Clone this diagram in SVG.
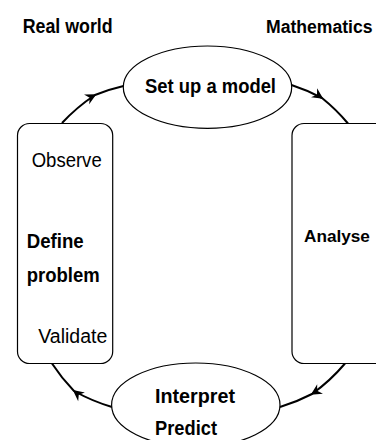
<svg xmlns="http://www.w3.org/2000/svg" width="376" height="440" viewBox="0 0 376 440">
<style>
text{font-family:"Liberation Sans",Arial,sans-serif;font-size:19.5px;fill:#000}
.b{font-weight:bold}
.shape{fill:#fff;stroke:#000;stroke-width:1.2}
.conn{fill:none;stroke:#000;stroke-width:2;marker-mid:url(#arr)}
</style>
<defs>
<marker id="arr" viewBox="-11 -6 13 12" markerWidth="13" markerHeight="12" refX="0" refY="0" orient="auto" markerUnits="userSpaceOnUse">
<path d="M1.5,0 L-9.5,-5.5 L-6,0 L-9.5,5.5 Z" fill="#000"/>
</marker>
</defs>
<rect width="376" height="440" fill="#fff"/>
<text class="b" x="22.7" y="33.3" textLength="90" lengthAdjust="spacingAndGlyphs">Real world</text>
<text class="b" x="266" y="33.3" style="font-size:17.6px">Mathematics</text>
<g id="connectors">
<path class="conn" d="M62,123 A185,185 0 0 1 95,95 A185,185 0 0 1 123.5,86"/>
<path class="conn" d="M291.5,85 A185,185 0 0 1 322,98 A185,185 0 0 1 348,123.5"/>
<path class="conn" d="M345,363.5 A185,185 0 0 1 312,394 A185,185 0 0 1 280,407"/>
<path class="conn" d="M112,407 A185,185 0 0 1 74,391 A185,185 0 0 1 52,363.5"/>
</g>
<g id="setup">
<ellipse class="shape" cx="207.5" cy="87.2" rx="84.2" ry="41.2"/>
<text class="b" x="145" y="93.3" textLength="131" lengthAdjust="spacingAndGlyphs">Set up a model</text>
</g>
<g id="define">
<rect class="shape" x="17.5" y="123.5" width="95.2" height="240" rx="12"/>
<text x="31.7" y="166.7" textLength="70" lengthAdjust="spacingAndGlyphs">Observe</text>
<text class="b" x="26.7" y="248.3" textLength="57" lengthAdjust="spacingAndGlyphs">Define</text>
<text class="b" x="26.7" y="281.7" textLength="73" lengthAdjust="spacingAndGlyphs">problem</text>
<text x="38.3" y="343.3" textLength="69" lengthAdjust="spacingAndGlyphs">Validate</text>
</g>
<g id="analyse">
<rect class="shape" x="292" y="123.5" width="110" height="240" rx="12"/>
<text class="b" x="304" y="242" style="font-size:17.2px">Analyse</text>
</g>
<g id="interpret">
<ellipse class="shape" cx="195.8" cy="405" rx="84.2" ry="42"/>
<text class="b" x="155" y="403.3" textLength="80" lengthAdjust="spacingAndGlyphs">Interpret</text>
<text class="b" x="155" y="435" textLength="62" lengthAdjust="spacingAndGlyphs">Predict</text>
</g>
</svg>
